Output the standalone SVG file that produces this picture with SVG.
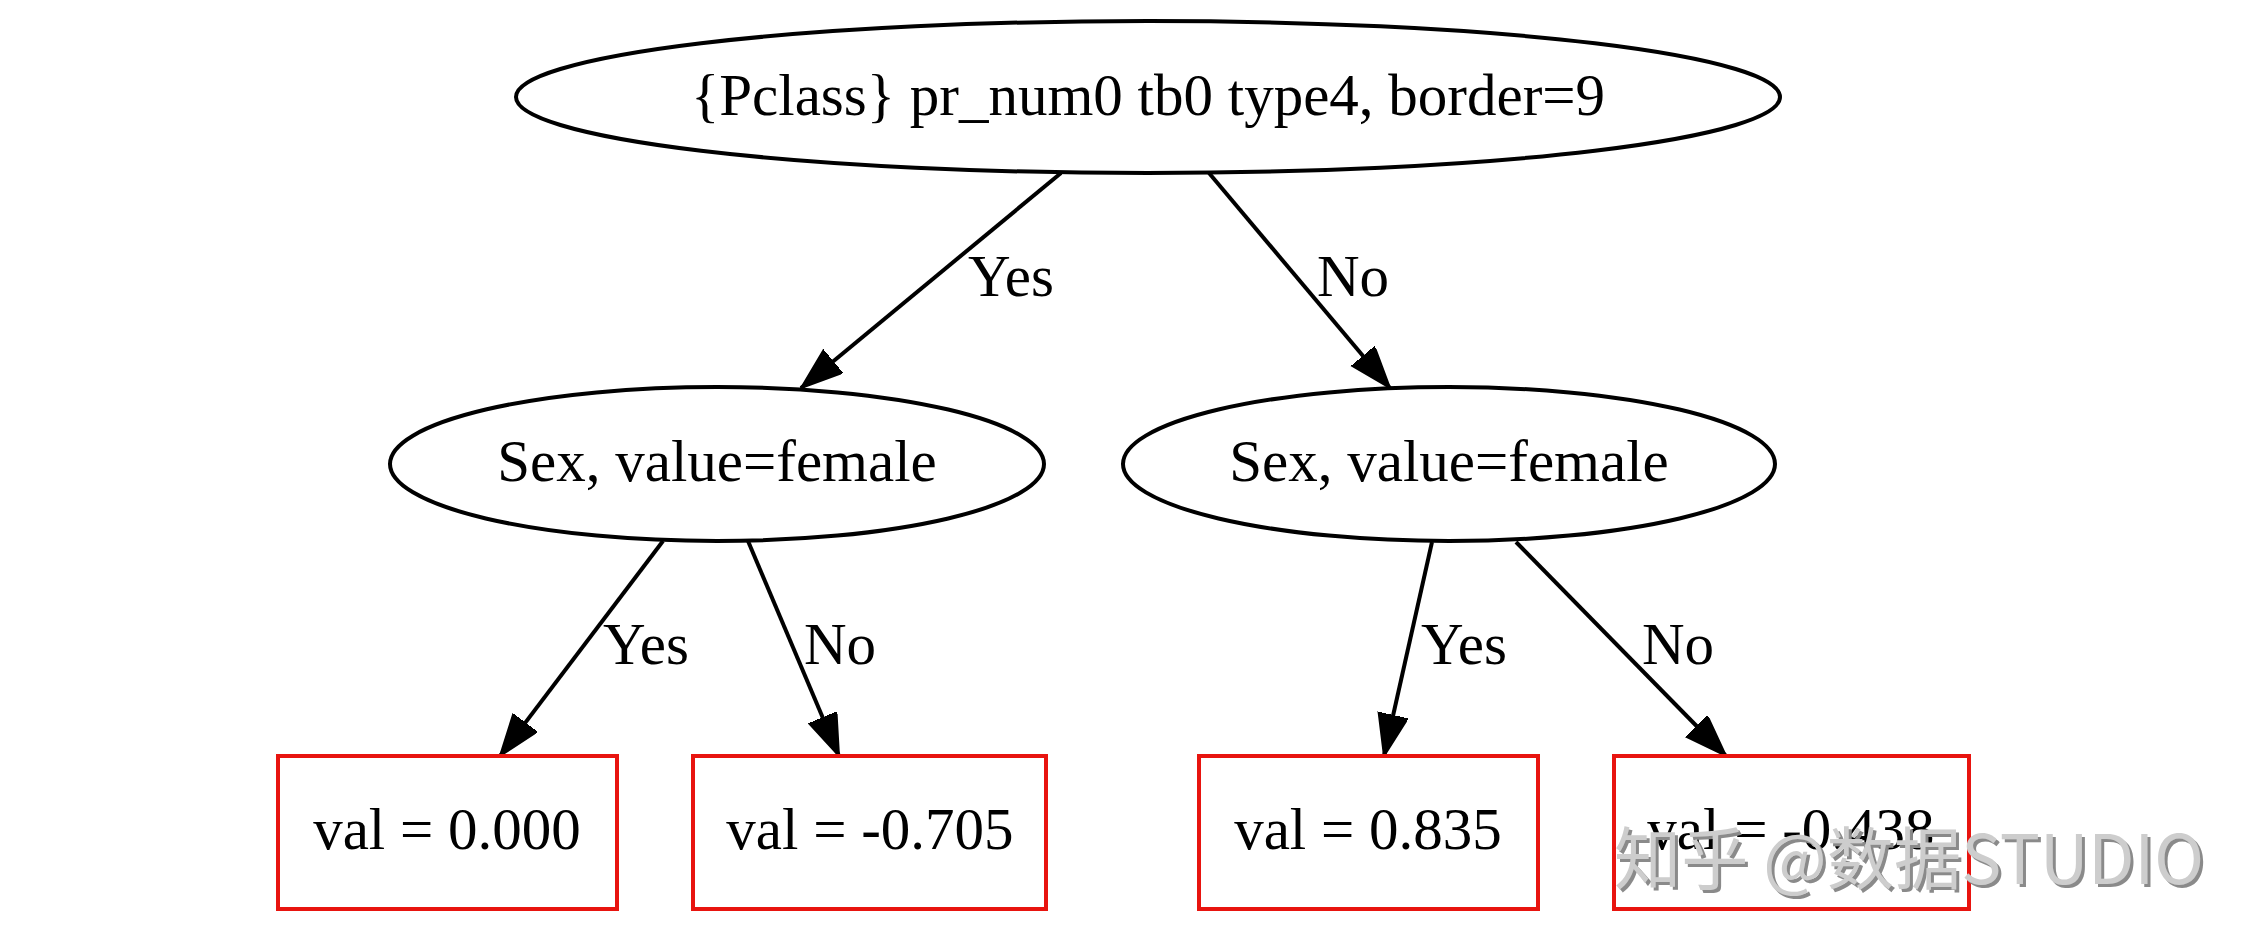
<svg xmlns="http://www.w3.org/2000/svg" width="2264" height="952" viewBox="0 0 2264 952">
<style>
.n{fill:#fff;stroke:#000;stroke-width:4}
.leaf{fill:#fff;stroke:#e8140f;stroke-width:4}
.t{font-family:"Liberation Serif","Times New Roman",serif;font-size:59px;fill:#000;text-anchor:middle}
.lbl{font-family:"Liberation Serif","Times New Roman",serif;font-size:59px;fill:#000}
.e{stroke:#000;stroke-width:4;fill:none;marker-end:url(#arr)}
.wm{font-family:"Noto Sans CJK SC","Noto Sans",sans-serif;font-size:68px;fill:#cdcdcd;filter:url(#sh)}
</style>
<defs>
<marker id="arr" markerUnits="userSpaceOnUse" markerWidth="44" markerHeight="32" refX="42" refY="15" orient="auto">
<path d="M0,0 L42,15 L0,30 Z" fill="#000" stroke="#000" stroke-width="2"/>
</marker>
<filter id="sh" x="-5%" y="-20%" width="110%" height="140%">
<feDropShadow dx="3" dy="3" stdDeviation="0.5" flood-color="#8a8a8a" flood-opacity="1"/>
</filter>
</defs>
<rect width="2264" height="952" fill="#fff"/>
<g id="edges">
<line class="e" x1="1061" y1="173" x2="801" y2="388"/>
<line class="e" x1="1209" y1="173" x2="1390" y2="388"/>
<line class="e" x1="663" y1="541" x2="500" y2="756"/>
<line class="e" x1="748" y1="541" x2="839" y2="756"/>
<line class="e" x1="1432" y1="542" x2="1384" y2="756"/>
<line class="e" x1="1516" y1="542" x2="1726" y2="756"/>
<text class="lbl" x="968" y="296">Yes</text>
<text class="lbl" x="1317" y="296">No</text>
<text class="lbl" x="603" y="664">Yes</text>
<text class="lbl" x="804" y="664">No</text>
<text class="lbl" x="1421" y="664">Yes</text>
<text class="lbl" x="1642" y="664">No</text>
</g>
<g id="root">
<ellipse class="n" cx="1148" cy="97" rx="632" ry="76"/>
<text class="t" x="1148" y="115">{Pclass} pr_num0 tb0 type4, border=9</text>
</g>
<g id="sex_left">
<ellipse class="n" cx="717" cy="464" rx="327" ry="77"/>
<text class="t" x="717" y="481">Sex, value=female</text>
</g>
<g id="sex_right">
<ellipse class="n" cx="1449" cy="464" rx="326" ry="77"/>
<text class="t" x="1449" y="481">Sex, value=female</text>
</g>
<g id="leaf1">
<rect class="leaf" x="278" y="756" width="339" height="153"/>
<text class="t" x="447" y="849">val = 0.000</text>
</g>
<g id="leaf2">
<rect class="leaf" x="693" y="756" width="353" height="153"/>
<text class="t" x="870" y="849">val = -0.705</text>
</g>
<g id="leaf3">
<rect class="leaf" x="1199" y="756" width="339" height="153"/>
<text class="t" x="1368" y="849">val = 0.835</text>
</g>
<g id="leaf4">
<rect class="leaf" x="1614" y="756" width="355" height="153"/>
<text class="t" x="1791" y="849">val = -0.438</text>
</g>
<text class="wm" x="1614" y="884" textLength="590" lengthAdjust="spacingAndGlyphs">知乎 @数据STUDIO</text>
</svg>
